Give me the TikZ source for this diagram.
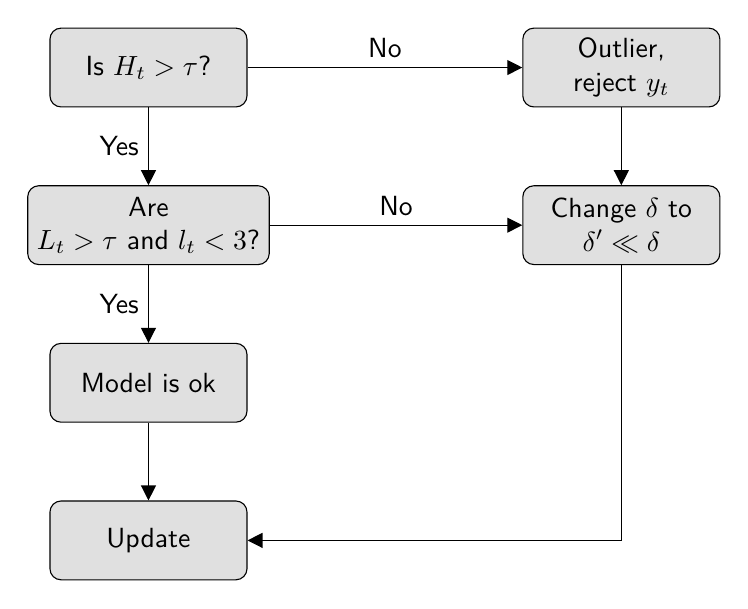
\documentclass[tikz,border=0pt]{standalone}
\usepackage{amssymb}
\usetikzlibrary{arrows.meta,positioning}
\begin{document}
\begin{tikzpicture}[
  font=\sffamily,
  box/.style={draw=black, fill=black!12, rounded corners=4pt, minimum width=2.5cm,
    minimum height=1cm, align=center, line width=0.4pt},
  arr/.style={-{Triangle[length=5.4pt,width=5.4pt]}, line width=0.4pt},
  lbl/.style={font=\sffamily}
]
\useasboundingbox (-1.884,0.857) rectangle (7.607,-6.858);
\node[box] (h) at (0,0) {Is $H_t > \tau$?};
\node[box] (o) at (6,0) {Outlier,\\ reject $y_t$};
\node[box] (a) at (0,-2) {Are\\ $L_t > \tau$ and $l_t < 3$?};
\node[box] (c) at (6,-2) {Change $\delta$ to\\ $\delta' \ll \delta$};
\node[box] (m) at (0,-4) {Model is ok};
\node[box] (u) at (0,-6) {Update};
\draw[arr] (h) -- node[above, lbl] {No} (o);
\draw[arr] (h) -- node[left, lbl] {Yes} (a);
\draw[arr] (o) -- (c);
\draw[arr] (a) -- node[above, lbl] {No} (c);
\draw[arr] (a) -- node[left, lbl] {Yes} (m);
\draw[arr] (m) -- (u);
\draw[arr] (c.south) |- (u.east);
\end{tikzpicture}
\end{document}
